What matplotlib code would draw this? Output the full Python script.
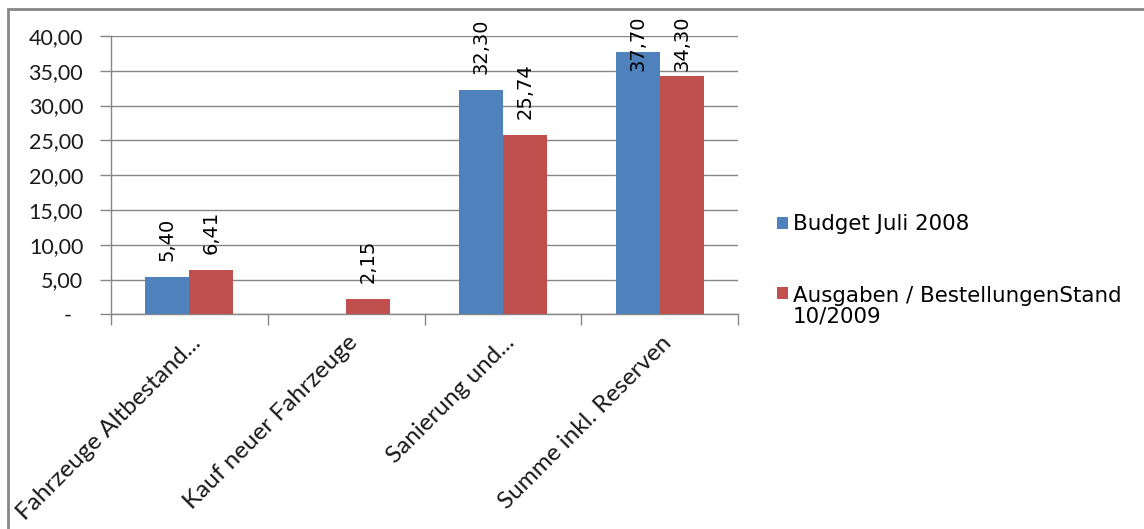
import numpy as np
import matplotlib
matplotlib.use("Agg")
import matplotlib.pyplot as plt
from matplotlib.patches import Rectangle
from matplotlib.ticker import FixedLocator, FuncFormatter

# ── Data ────────────────────────────────────────────────────────────────────
categories = ["Fahrzeuge Altbestand...", "Kauf neuer Fahrzeuge",
              "Sanierung und...", "Summe inkl. Reserven"]
budget = [5.40, np.nan, 32.30, 37.70]          # Budget Juli 2008
ausgaben = [6.41, 2.15, 25.74, 34.30]          # Ausgaben / Bestellungen 10/2009
series_names = ["Budget Juli 2008", "Ausgaben / BestellungenStand\n10/2009"]

BLUE = "#4F81BD"
RED = "#C0504D"
GRID = "#868686"

W, H = 1144, 529
fig = plt.figure(figsize=(W / 100, H / 100), dpi=100)
ax = fig.add_axes([111 / W, 1 - 314.3 / H, (738 - 111) / W, (314.3 - 36) / H])

x = np.arange(len(categories)) + 0.5
bw = 0.281
ax.bar(x - bw / 2, budget, bw, color=BLUE, zorder=3)
ax.bar(x + bw / 2, ausgaben, bw, color=RED, zorder=3)

def fmt(v):
    return f"{v:.2f}".replace(".", ",")

# value labels, rotated; kept inside the chart frame near the top
for xs, vals in ((x - bw / 2, budget), (x + bw / 2, ausgaben)):
    for xi, v in zip(xs, vals):
        if np.isnan(v):
            continue
        ax.text(xi, min(v + 2.3, 35.0), fmt(v), rotation=90, ha="center",
                va="bottom", fontsize=14, family="DejaVu Sans", color="black",
                zorder=4)

ax.set_xlim(0, len(categories))
ax.set_ylim(0, 40)
ax.set_yticks(np.arange(0, 41, 5))
ax.yaxis.set_major_formatter(FuncFormatter(
    lambda v, p: "-  " if v == 0 else fmt(v)))
ax.grid(axis="y", color=GRID, lw=1.0, zorder=0)

ax.xaxis.set_major_locator(FixedLocator(np.arange(len(categories) + 1)))
ax.xaxis.set_major_formatter(FuncFormatter(lambda v, p: ""))
ax.tick_params(axis="x", which="major", length=8, color=GRID, width=1)
ax.tick_params(axis="y", length=8, color=GRID, width=1, pad=12,
               labelsize=15.5)
for lab in ax.get_yticklabels():
    lab.set_family("Lato")
    lab.set_color("#1a1a1a")

for s in ("top", "right"):
    ax.spines[s].set_visible(False)
for s in ("left", "bottom"):
    ax.spines[s].set_color(GRID)
    ax.spines[s].set_linewidth(1.0)

# category names, 45° rotated, right end hanging under the category centre
for xi, name in zip(x, categories):
    ax.annotate(name, xy=(xi, 0), xycoords="data", xytext=(6, -18),
                textcoords="offset points", rotation=45, ha="right",
                va="center", rotation_mode="anchor", fontsize=17.5,
                family="Lato", color="#1a1a1a")

# legend: small square key + text, built in pixel positions of the figure
to_fig = lambda px, py: (px / W, 1 - py / H)
for (ky, ty), name, col in zip(((217, 230.5), (287, 322.5)), series_names,
                               (BLUE, RED)):
    fig.patches.append(Rectangle(to_fig(777, ky + 12), 11 / W, 12 / H,
                                 transform=fig.transFigure, fc=col, ec="none"))
    fig.text(*to_fig(793, ty), name, ha="left", va="baseline",
             fontsize=15.4, family="DejaVu Sans", color="black",
             linespacing=1.03)

# outer chart frame
fig.patches.append(Rectangle((8 / W, -0.2), 1.2, 1 - 9 / H + 0.2,
                             transform=fig.transFigure, fill=False,
                             ec="#878787", lw=2))

fig.savefig("out.png", dpi=100)
